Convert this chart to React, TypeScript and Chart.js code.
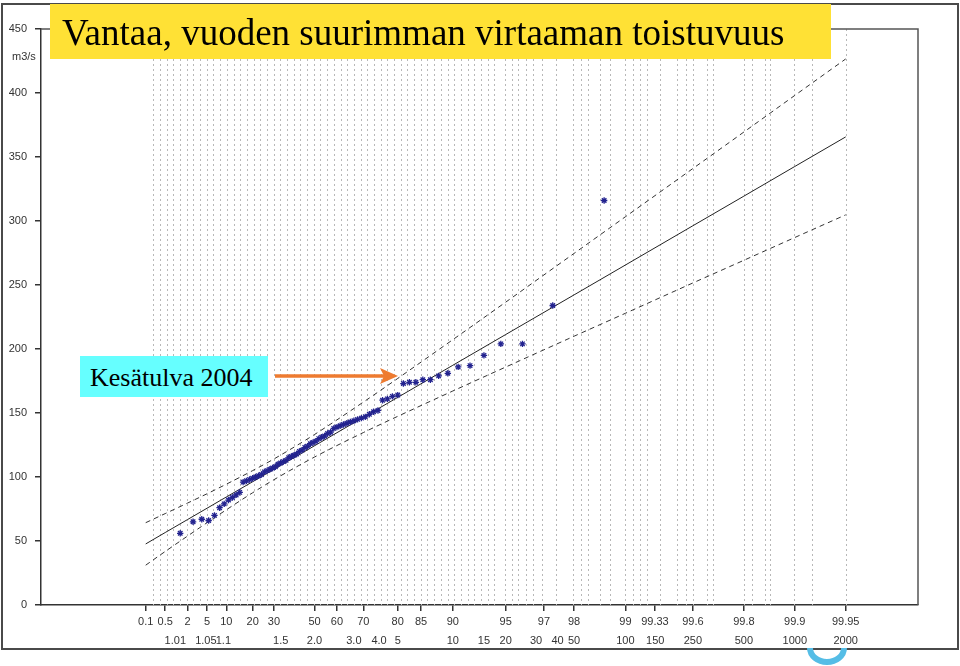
import React, { useEffect, useRef } from "react";
import { Chart, registerables } from "chart.js";

Chart.register(...registerables);

// Non-exceedance probability ticks (%) on the Gumbel axis
const probTicks = [0.1, 0.5, 2, 5, 10, 20, 30, 50, 60, 70, 80, 85, 90, 95, 97, 98, 99, 99.33, 99.6, 99.8, 99.9, 99.95];
const probLabels = ["0.1", "0.5", "2", "5", "10", "20", "30", "50", "60", "70", "80", "85", "90", "95", "97", "98", "99", "99.33", "99.6", "99.8", "99.9", "99.95"];

// Return periods (years) shown on the second label row
const returnPeriods = [1.01, 1.05, 1.1, 1.5, 2.0, 3.0, 4.0, 5, 10, 15, 20, 30, 40, 50, 100, 150, 250, 500, 1000, 2000];
const returnLabels = ["1.01", "1.05", "1.1", "1.5", "2.0", "3.0", "4.0", "5", "10", "15", "20", "30", "40", "50", "100", "150", "250", "500", "1000", "2000"];

// Annual maximum flows (m3/s), sorted ascending
const annualMaxFlows = [
  56, 65, 67, 66, 70, 76, 79, 82, 84, 86,
  88, 96, 97, 98, 99, 100, 101, 102, 104, 105,
  106, 107, 108, 110, 111, 112, 113, 115, 116, 117,
  118, 120, 121, 123, 124, 126, 127, 128, 130, 131,
  132, 134, 135, 138, 139, 140, 141, 142, 143, 144,
  145, 146, 147, 149, 151, 152, 160, 161, 163, 164,
  173, 174, 174, 176, 176, 179, 181, 186, 187, 195,
  204, 204, 234, 316,
];

// Fitted Gumbel line and confidence limits (m3/s) at probabilities (%)
const fitProb = [0.1, 0.5, 2, 5, 10, 20, 30, 50, 70, 80, 90, 95, 98, 99, 99.6, 99.8, 99.9, 99.95];
const fitMean = [47.7, 56.6, 66.7, 75.6, 84.4, 96.3, 106.0, 124.4, 146.6, 162.2, 187.3, 211.3, 242.3, 265.6, 296.3, 319.4, 342.6, 365.7];
const fitUpper = [64.3, 71.4, 79.6, 86.9, 94.4, 105.0, 114.1, 133.2, 158.5, 177.0, 207.3, 236.6, 274.7, 303.3, 341.0, 369.5, 398.1, 426.6];
const fitLower = [31.1, 41.8, 53.8, 64.3, 74.4, 87.7, 97.9, 115.6, 134.7, 147.4, 167.2, 185.9, 210.0, 227.9, 251.6, 269.3, 287.1, 304.8];

const yTicks = [0, 50, 100, 150, 200, 250, 300, 350, 400, 450];

// sparse vertical grid positions (reduced variate) in the upper tail
const sparseGridU = [2.96, 3.05, 3.14, 3.25, 3.34, 3.46, 3.66, 3.89, 4.0, 4.09, 4.25, 4.39, 4.59, 4.7, 4.8, 4.89, 5.07, 5.3, 5.43, 5.52, 5.71, 5.8, 6.21, 6.32, 6.5, 6.57, 6.89, 7.14, 7.61];

const gumbel = (pct: number) => -Math.log(-Math.log(pct / 100));
const returnToU = (t: number) => gumbel((1 - 1 / t) * 100);

const TICK_FONT = { family: "'Liberation Sans', Arial, sans-serif", size: 11 };

export default function App() {
  const ref = useRef<HTMLCanvasElement>(null);

  useEffect(() => {
    const n = annualMaxFlows.length;
    const points = annualMaxFlows.map((q, i) => ({ x: gumbel(((i + 1) / (n + 1)) * 100), y: q }));
    const mean = fitProb.map((p, i) => ({ x: gumbel(p), y: fitMean[i] }));
    const upper = fitProb.map((p, i) => ({ x: gumbel(p), y: fitUpper[i] }));
    const lower = fitProb.map((p, i) => ({ x: gumbel(p), y: fitLower[i] }));

    const gridU: number[] = [];
    for (let u = -1.83; u < 2.9; u += 0.0911) gridU.push(u);
    sparseGridU.forEach((u) => gridU.push(u));

    const overlay = {
      id: "overlay",
      beforeDatasetsDraw(chart: any) {
        const { ctx, chartArea, scales } = chart;
        const x = scales.x;
        ctx.save();
        ctx.strokeStyle = "#b8b8b8";
        ctx.lineWidth = 1;
        ctx.setLineDash([2, 3]);
        for (const u of gridU) {
          const px = Math.round(x.getPixelForValue(u)) + 0.5;
          ctx.beginPath();
          ctx.moveTo(px, chartArea.top);
          ctx.lineTo(px, chartArea.bottom);
          ctx.stroke();
        }
        ctx.restore();
      },
      afterDraw(chart: any) {
        const { ctx, chartArea, scales } = chart;
        const x = scales.x;
        ctx.save();
        ctx.strokeStyle = "#555";
        ctx.lineWidth = 1.5;
        ctx.beginPath();
        ctx.moveTo(chartArea.left, chartArea.top);
        ctx.lineTo(chartArea.right, chartArea.top);
        ctx.lineTo(chartArea.right, chartArea.bottom);
        ctx.stroke();
        ctx.fillStyle = "#333";
        ctx.font = "11px 'Liberation Sans', Arial, sans-serif";
        ctx.textAlign = "center";
        ctx.textBaseline = "middle";
        returnPeriods.forEach((t, i) => {
          ctx.fillText(returnLabels[i], x.getPixelForValue(returnToU(t)), chartArea.bottom + 36);
        });
        ctx.restore();
      },
    };

    const chart = new Chart(ref.current as HTMLCanvasElement, {
      type: "scatter",
      data: {
        datasets: [
          {
            label: "Havainnot",
            data: points,
            showLine: false,
            pointStyle: "star",
            pointRadius: 3.2,
            pointBorderWidth: 1.3,
            borderColor: "#23238f",
            backgroundColor: "#23238f",
          },
          {
            label: "Sovite",
            data: mean,
            showLine: true,
            borderColor: "#222",
            borderWidth: 1,
            pointRadius: 0,
            cubicInterpolationMode: "monotone",
          },
          {
            label: "Yläraja",
            data: upper,
            showLine: true,
            borderColor: "#333",
            borderWidth: 1,
            borderDash: [5, 4],
            pointRadius: 0,
            cubicInterpolationMode: "monotone",
          },
          {
            label: "Alaraja",
            data: lower,
            showLine: true,
            borderColor: "#333",
            borderWidth: 1,
            borderDash: [5, 4],
            pointRadius: 0,
            cubicInterpolationMode: "monotone",
          },
        ],
      },
      options: {
        responsive: false,
        animation: false,
        devicePixelRatio: 1,
        layout: { padding: { top: 29, right: 42, left: 0, bottom: 0 } },
        plugins: { legend: { display: false }, tooltip: { enabled: false } },
        scales: {
          x: {
            type: "linear",
            min: -3.3585,
            max: 8.5853,
            afterBuildTicks: (s: any) => {
              s.ticks = probTicks.map((p) => ({ value: gumbel(p) }));
            },
            afterFit: (s: any) => {
              s.height = 61;
            },
            ticks: {
              autoSkip: false,
              maxRotation: 0,
              padding: 4,
              color: "#333",
              font: TICK_FONT,
              callback: (_v: any, i: number) => probLabels[i],
            },
            grid: { drawOnChartArea: false, drawTicks: true, tickLength: 6, color: "#333", lineWidth: 1.5 },
            border: { display: true, color: "#333", width: 1.5 },
          },
          y: {
            type: "linear",
            min: 0,
            max: 450,
            afterBuildTicks: (s: any) => {
              s.ticks = yTicks.map((v) => ({ value: v }));
            },
            afterFit: (s: any) => {
              s.width = 41;
            },
            ticks: { padding: 8, color: "#333", font: TICK_FONT },
            grid: { drawOnChartArea: false, drawTicks: true, tickLength: 6, color: "#333", lineWidth: 1.5 },
            border: { display: true, color: "#333", width: 1.5 },
          },
        },
      },
      plugins: [overlay],
    } as any);
    return () => chart.destroy();
  }, []);

  return (
    <div style={{ position: "absolute", left: 0, top: 0, width: 960, height: 666, background: "#fff", overflow: "hidden" }}>
      <div style={{ position: "absolute", left: 1, top: 3, width: 954, height: 643, border: "2px solid #4a4a4a" }} />
      <canvas ref={ref} width={960} height={666} style={{ position: "absolute", left: 0, top: 0, width: 960, height: 666 }} />
      <div
        style={{
          position: "absolute", left: 23, top: 50, width: 30, textAlign: "left",
          font: "11px 'Liberation Sans', Arial, sans-serif", color: "#333", transform: "translateX(-11px)",
        }}
      >
        m3/s
      </div>
      <div
        style={{
          position: "absolute", left: 50, top: 4, width: 781, height: 55, background: "#FFE135",
          font: "37px 'Liberation Serif', 'Times New Roman', serif", color: "#000", lineHeight: "58px",
          paddingLeft: 12, boxSizing: "border-box", whiteSpace: "nowrap", overflow: "hidden",
        }}
      >
        Vantaa, vuoden suurimman virtaaman toistuvuus
      </div>
      <div
        style={{
          position: "absolute", left: 80, top: 356, width: 188, height: 41, background: "#66FFFF",
          font: "26px 'Liberation Serif', 'Times New Roman', serif", color: "#000", lineHeight: "44px",
          paddingLeft: 10, boxSizing: "border-box", whiteSpace: "nowrap",
        }}
      >
        Kesätulva 2004
      </div>
      <svg width={960} height={666} style={{ position: "absolute", left: 0, top: 0, pointerEvents: "none" }}>
        <line x1={275} y1={376} x2={386} y2={376} stroke="#EE7B30" strokeWidth={3.5} />
        <polygon points="380,368 398,376 380,384 384,376" fill="#EE7B30" />
        <path d="M 810 648 A 17 14 0 0 0 844 648" fill="none" stroke="#55BDE6" strokeWidth={6} />
      </svg>
    </div>
  );
}
